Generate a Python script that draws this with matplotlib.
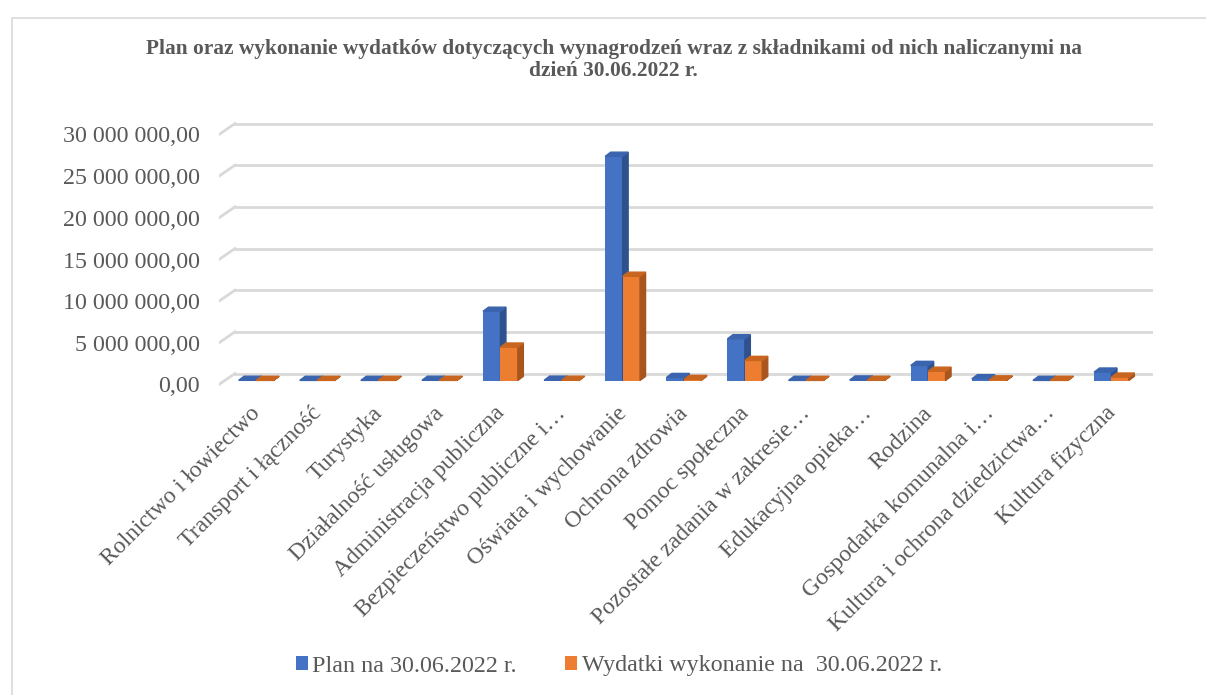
import matplotlib.pyplot as plt
from matplotlib.patches import Polygon, Rectangle
import numpy as np

categories = [
    "Rolnictwo i łowiectwo", "Transport i łączność", "Turystyka",
    "Działalność usługowa", "Administracja publiczna",
    "Bezpieczeństwo publiczne i…", "Oświata i wychowanie",
    "Ochrona zdrowia", "Pomoc społeczna", "Pozostałe zadania w zakresie…",
    "Edukacyjna opieka…", "Rodzina", "Gospodarka komunalna i…",
    "Kultura i ochrona dziedzictwa…", "Kultura fizyczna",
]
plan = [0.02e6, 0.01e6, 0.01e6, 0.02e6, 8.3e6, 0.03e6, 26.9e6,
        0.35e6, 5.0e6, 0.01e6, 0.05e6, 1.8e6, 0.2e6, 0.01e6, 1.0e6]
wykonanie = [0.01e6, 0.01e6, 0.01e6, 0.01e6, 4.0e6, 0.02e6, 12.5e6,
             0.12e6, 2.4e6, 0.01e6, 0.02e6, 1.1e6, 0.06e6, 0.01e6, 0.4e6]
series_names = ["Plan na 30.06.2022 r.", "Wydatki wykonanie na  30.06.2022 r."]
yticks = [0, 5e6, 10e6, 15e6, 20e6, 25e6, 30e6]

def fmt(v):
    return "{:,.2f}".format(v).replace(",", " ").replace(".", ",")

plt.rcParams['font.family'] = ['Liberation Serif', 'DejaVu Serif']
grey = '#595959'
W, H = 1206, 695
fig = plt.figure(figsize=(W / 100, H / 100), dpi=100)

# chart border
fig.patches.append(Rectangle((12 / W, -0.01), 1.2, 1 - 18 / H + 0.01,
                             transform=fig.transFigure, fill=False,
                             edgecolor='#d9d9d9', lw=1.2))

ax = fig.add_axes([219 / W, 1 - 386 / H, (1153 - 219) / W, 268 / H])
x0, x1 = -0.606, 14.68
ax.set_xlim(x0, x1)
ax.set_ylim(-0.66e6, 31.5e6)
for s in ax.spines.values():
    s.set_visible(False)

# 3D-style floor/walls: front edge below bar base, back wall above it
front, back = -0.48e6, 0.84e6
gdx = 0.262
for v in yticks:
    ax.plot([x0 + gdx, x1], [v + back, v + back], color='#d9d9d9', lw=2, zorder=0)
    ax.plot([x0, x0 + gdx], [v + front, v + back], color='#d9d9d9', lw=2, zorder=0)

x = np.arange(len(categories))
bw = 0.285
colors = [('#4472C4', '#2F528F', '#3A64AE'), ('#ED7D31', '#A9561E', '#C8651F')]
ddx, ddy = 0.09, 0.5e6
for k, (vals, (fc, sc, tc)) in enumerate(zip([plan, wykonanie], colors)):
    xs = x - bw + k * bw
    bars = ax.bar(xs, vals, bw, align='edge', color=fc, zorder=3 + k,
                  label=series_names[k])
    for b in bars:
        bx, bh = b.get_x(), b.get_height()
        side = [(bx + bw, 0), (bx + bw, bh), (bx + bw + ddx, bh + ddy), (bx + bw + ddx, ddy)]
        top = [(bx, bh), (bx + bw, bh), (bx + bw + ddx, bh + ddy), (bx + ddx, bh + ddy)]
        ax.add_patch(Polygon(side, closed=True, color=sc, zorder=3 + k))
        ax.add_patch(Polygon(top, closed=True, color=tc, zorder=3 + k))

ax.set_yticks([v + front for v in yticks])
ax.set_yticklabels([fmt(v) for v in yticks], fontsize=17.3, color=grey)
ax.set_xticks(x - 0.1)
ax.set_xticklabels(categories, rotation=45, ha='right', rotation_mode='anchor',
                   fontsize=17, color=grey)
ax.tick_params(axis='both', length=0)
ax.tick_params(axis='y', pad=14)
ax.tick_params(axis='x', pad=12)

fig.text(0.509, 1 - 49 / H, "Plan oraz wykonanie wydatków dotyczących wynagrodzeń wraz z składnikami od nich naliczanymi na",
         ha='center', va='center', fontsize=15.4, fontweight='bold', color=grey)
fig.text(0.509, 1 - 71 / H, "dzień 30.06.2022 r.",
         ha='center', va='center', fontsize=15.4, fontweight='bold', color=grey)

fig.legend(loc='center', bbox_to_anchor=(619 / W, 1 - 666 / H), ncol=2, frameon=False,
           fontsize=17.3, handlelength=0.5, handleheight=0.5, handletextpad=0.2,
           columnspacing=2.0, labelcolor=grey)

fig.savefig('out.png', dpi=100)
